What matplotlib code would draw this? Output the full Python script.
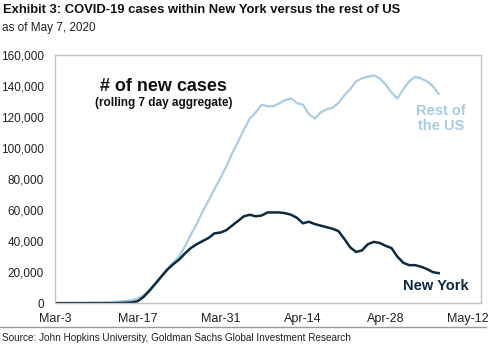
import matplotlib
matplotlib.use("Agg")
import matplotlib.pyplot as plt
import matplotlib.dates as mdates
import numpy as np
import pandas as pd

plt.rcParams['font.family'] = ['Liberation Sans', 'DejaVu Sans']

dates = pd.date_range("2020-03-03", "2020-05-07", freq="D")

rest_of_us = [0, 0, 0, 0, 100, 150, 200, 300, 400, 500,
              700, 1000, 1400, 2000, 3000, 5000, 8500, 13000, 17500, 22000,
              26000, 30000, 36500, 44000, 51000, 59000, 66000, 73500, 80500, 88000,
              96500, 104000, 112000, 119000, 123000, 128000, 127000, 127000, 129000, 131000,
              132000, 129000, 128000, 122000, 119000, 123000, 125000, 126000, 129000, 134000,
              138000, 143000, 145000, 146000, 147000, 145000, 141000, 136000, 132000, 138000,
              143000, 146000, 145000, 143000, 140000, 135000]

new_york = [0, 0, 0, 0, 0, 0, 0, 0, 0, 0,
            0, 100, 200, 500, 1200, 4000, 8000, 12500, 17000, 21500,
            25000, 28000, 32000, 35500, 38000, 40000, 42000, 45000, 45500, 47000,
            50000, 53000, 56000, 57000, 56000, 56500, 58500, 58500, 58500, 58000,
            57000, 55000, 51500, 52500, 51000, 50000, 49000, 48000, 46500, 41500,
            36000, 33000, 34000, 38000, 39500, 38800, 37000, 35500, 30000, 26000,
            24500, 24500, 23500, 22000, 20000, 19300]

tick_dates = pd.to_datetime(["2020-03-03", "2020-03-17", "2020-03-31",
                             "2020-04-14", "2020-04-28", "2020-05-12"])
tick_labels = ["Mar-3", "Mar-17", "Mar-31", "Apr-14", "Apr-28", "May-12"]
y_ticks = [0, 20000, 40000, 60000, 80000, 100000, 120000, 140000, 160000]

fig = plt.figure(figsize=(5, 3.6), dpi=100)
ax = fig.add_axes([0.11, 0.158, 0.852, 0.689])

rest_color = "#a9cde3"
ny_color = "#0e2a40"
ax.plot(dates, rest_of_us, color=rest_color, lw=1.6)
ax.plot(dates, new_york, color=ny_color, lw=1.8)

ax.set_ylim(0, 160000)
ax.set_xlim(pd.Timestamp("2020-03-03"), pd.Timestamp("2020-05-14 04:00"))
ax.set_yticks(y_ticks)
ax.set_yticklabels([f"{v:,}" for v in y_ticks])
ax.set_xticks(tick_dates)
ax.set_xticklabels(tick_labels)
ax.tick_params(axis='both', length=0, colors="#222222")
ax.tick_params(axis='y', labelsize=8.5, pad=8)
ax.tick_params(axis='x', labelsize=9, pad=7)
for s in ax.spines.values():
    s.set_color("#c4c4c4")
    s.set_linewidth(1.0)

ax.text(0.255, 0.875, "# of new cases", transform=ax.transAxes, ha='center',
        va='center', fontsize=13, fontweight='bold', color="#111111")
ax.text(0.255, 0.805, "(rolling 7 day aggregate)", transform=ax.transAxes, ha='center',
        va='center', fontsize=8.5, fontweight='bold', color="#111111")
ax.text(0.906, 0.745, "Rest of\nthe US", transform=ax.transAxes, ha='center',
        va='center', fontsize=10.5, fontweight='bold', color=rest_color,
        linespacing=1.15)
ax.text(0.895, 0.07, "New York", transform=ax.transAxes, ha='center',
        va='center', fontsize=10.5, fontweight='bold', color=ny_color)

fig.text(0.006, 0.972, "Exhibit 3: COVID-19 cases within New York versus the rest of US",
         fontsize=9.4, fontweight='bold', color="#111111", va='center', ha='left')
fig.text(0.004, 0.922, "as of May 7, 2020", fontsize=8.5, color="#222222",
         va='center', ha='left')
fig.text(0.004, 0.062, "Source: John Hopkins University, Goldman Sachs Global Investment Research",
         fontsize=7.2, color="#222222", va='center', ha='left')
fig.add_artist(plt.Line2D([0.0, 0.972], [0.093, 0.093], color="#9a9a9a", lw=1.0,
                          transform=fig.transFigure))

fig.savefig("out.png", dpi=100)
